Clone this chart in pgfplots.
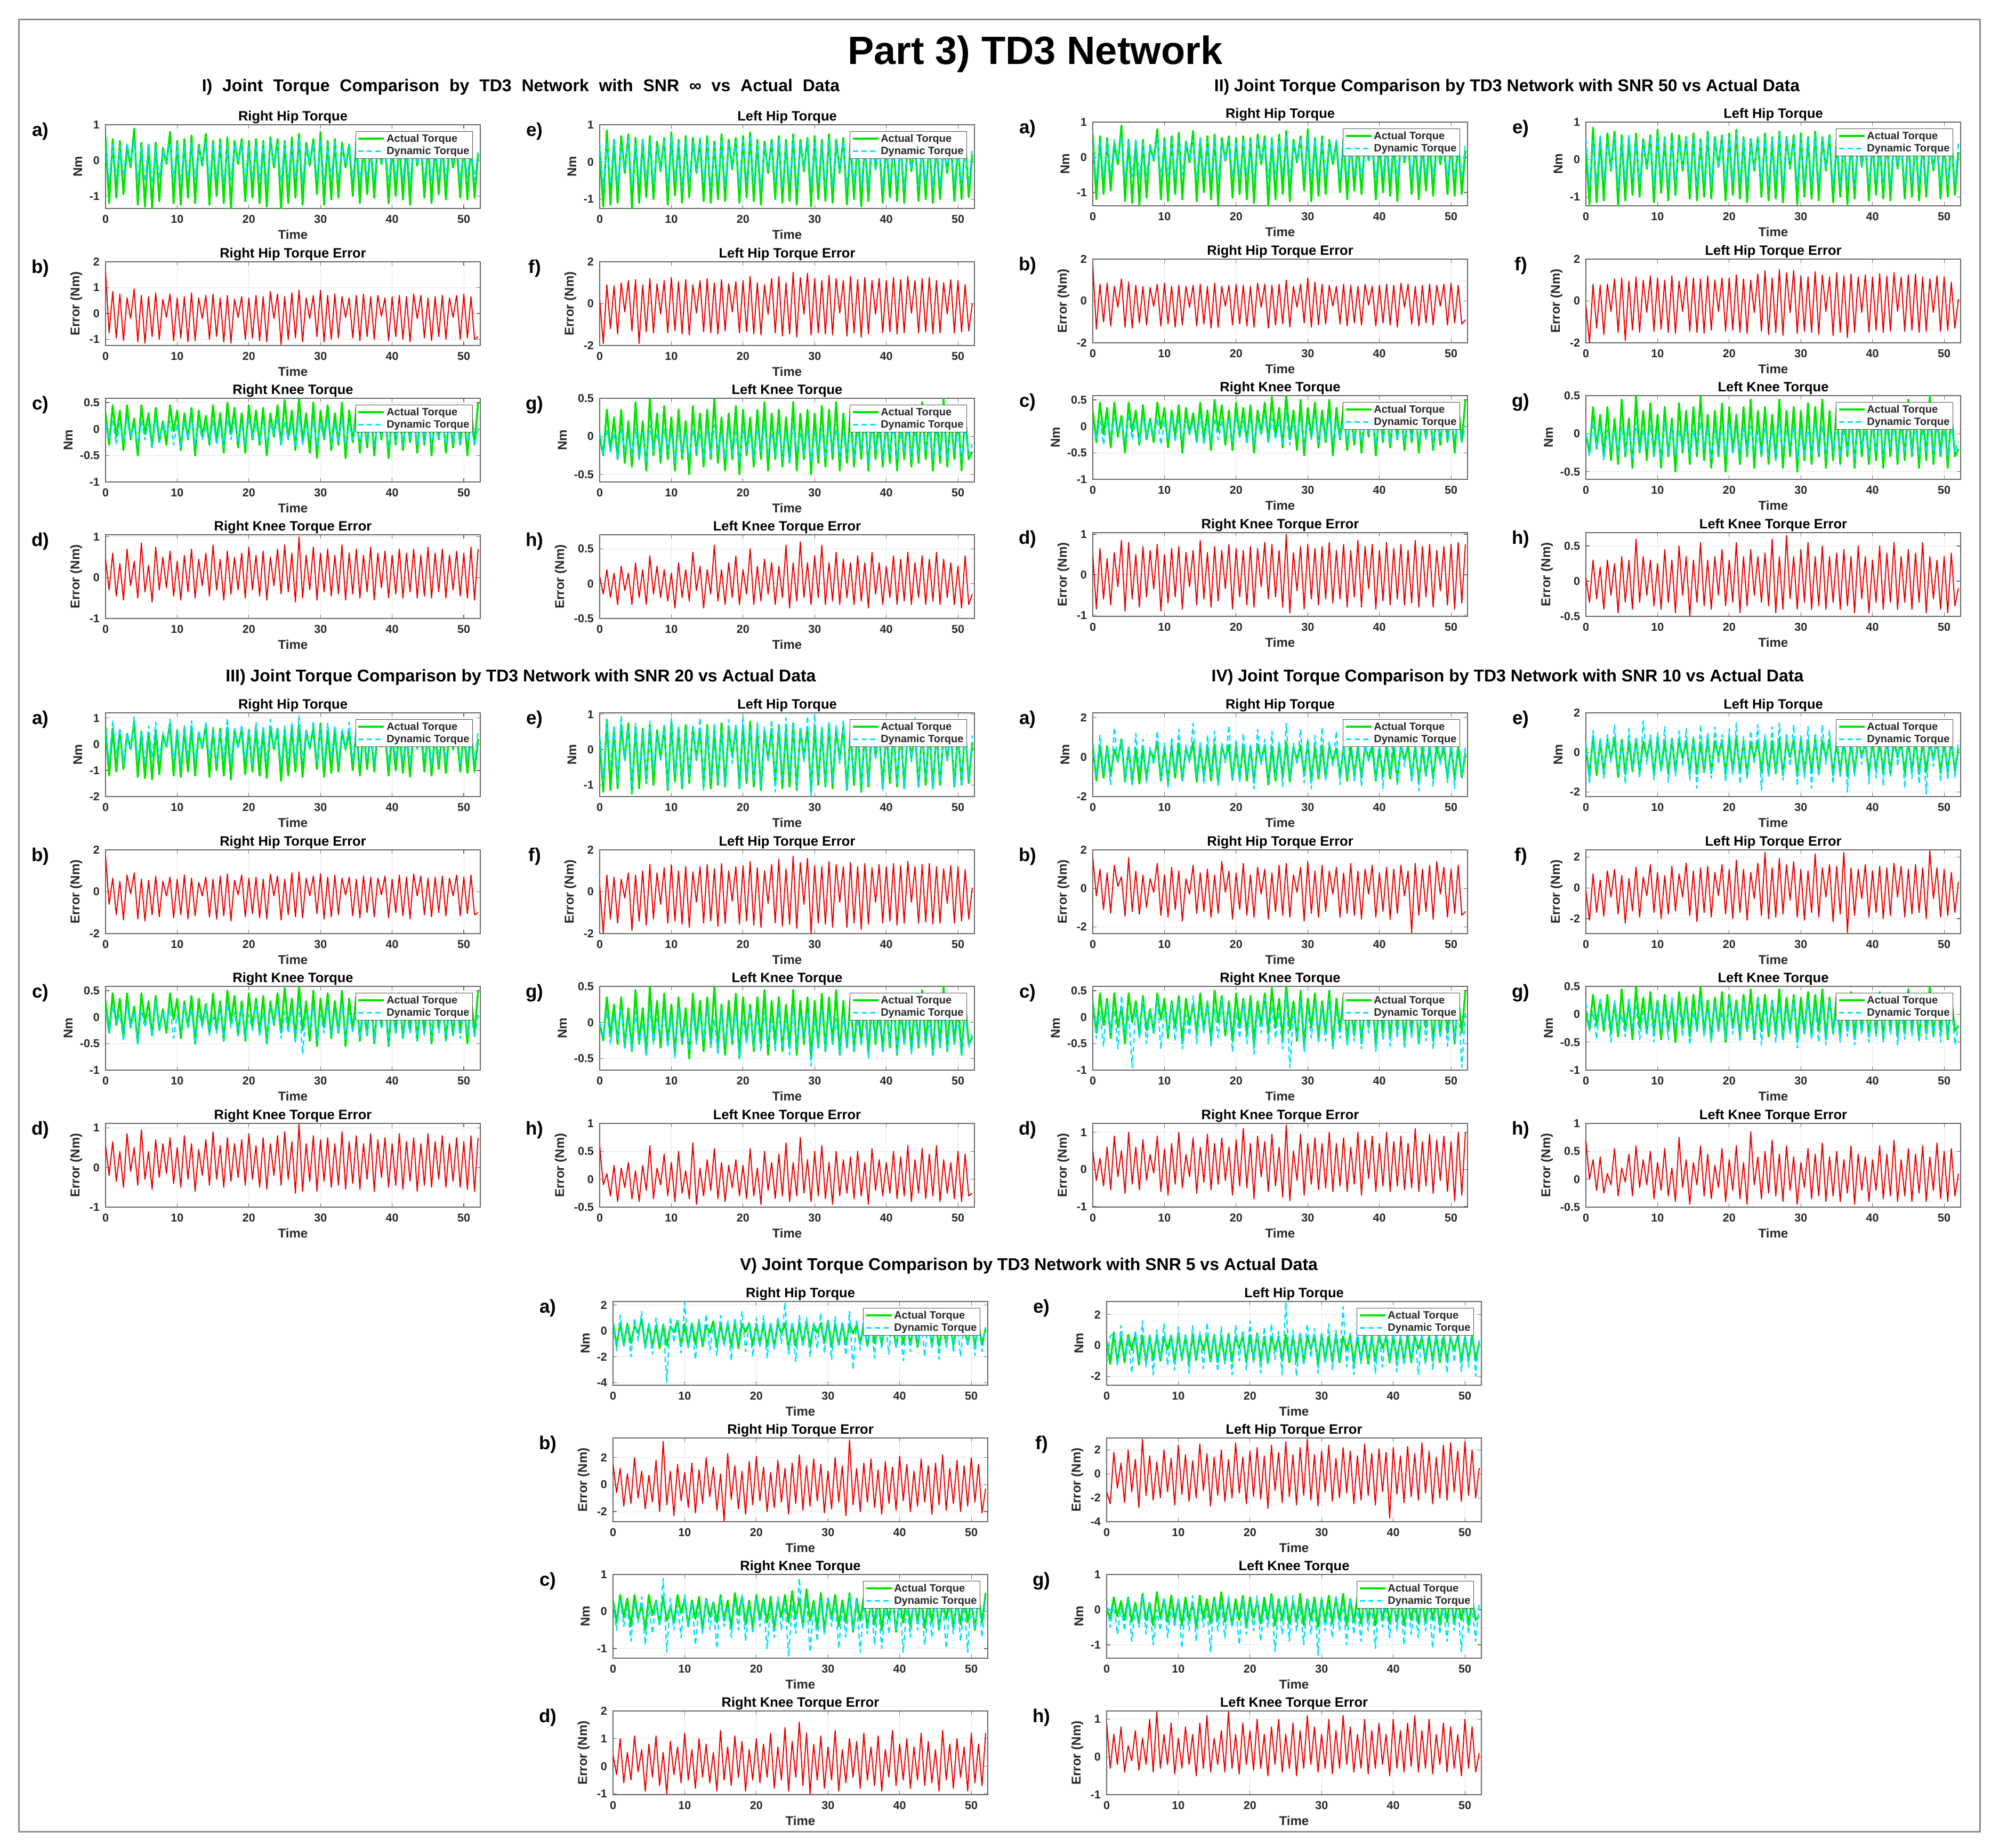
\documentclass[border=0pt]{standalone}
\usepackage{fontspec}
\setmainfont{Liberation Sans}
\usepackage{pgfplots}
\usepackage{pgfplotstable}
\pgfplotsset{compat=1.18}

\definecolor{cG}{RGB}{0,230,0}
\definecolor{cC}{RGB}{0,225,255}
\definecolor{cR}{RGB}{235,0,0}
\definecolor{fr}{RGB}{140,140,140}
\newcommand{\fz}[1]{\fontsize{#1}{#1}\selectfont\bfseries}

\pgfplotstableread{
t rh lh rk lk
0 0.65 0.3 0.3 0.0
0.5 -1.2 -1.2 -0.3 -0.25
1 0.6 0.85 0.45 0.35
1.5 -1.05 -1.15 -0.15 -0.2
2 0.55 0.6 0.35 0.25
2.5 -0.95 -1.1 -0.4 -0.3
3 0.4 0.7 0.45 0.35
3.5 -0.2 -0.3 -0.2 -0.35
4 0.9 0.75 0.2 0.2
4.5 -1.25 -1.25 -0.5 -0.4
5 0.5 0.65 0.45 0.45
5.5 -1.3 -1.1 -0.1 -0.3
6 0.45 0.6 0.3 0.2
6.5 -1.35 -0.95 -0.35 -0.45
7 0.5 0.7 0.4 0.5
7.5 -1.15 -1.0 -0.25 -0.25
8 0.35 0.55 0.15 0.3
8.5 -0.1 -0.25 -0.3 -0.35
9 0.8 0.65 0.45 0.4
9.5 -1.2 -1.15 -0.05 -0.3
10 0.55 0.8 0.35 0.25
10.5 -1.25 -0.9 -0.4 -0.45
11 0.6 0.6 0.3 0.35
11.5 -1.05 -1.1 -0.2 -0.3
12 0.7 0.7 0.4 0.2
12.5 -1.2 -0.95 -0.5 -0.5
13 0.45 0.65 0.35 0.4
13.5 -0.15 -0.3 -0.15 -0.25
14 0.75 0.6 0.25 0.3
14.5 -1.25 -1.05 -0.3 -0.4
15 0.55 0.7 0.45 0.35
15.5 -1.0 -1.1 -0.25 -0.3
16 0.6 0.55 0.3 0.5
16.5 -1.2 -1.0 -0.45 -0.35
17 0.65 0.75 0.5 0.25
17.5 -1.35 -1.05 -0.1 -0.45
18 0.55 0.6 0.4 0.3
18.5 -0.1 -0.2 -0.35 -0.3
19 0.6 0.65 0.3 0.4
19.5 -1.15 -1.1 -0.45 -0.5
20 0.55 0.7 0.45 0.35
20.5 -1.05 -0.95 -0.2 -0.25
21 0.6 0.8 0.35 0.25
21.5 -1.2 -1.05 -0.3 -0.4
22 0.55 0.6 0.4 0.35
22.5 -1.3 -1.15 -0.5 -0.3
23 0.65 0.55 0.3 0.45
23.5 -0.2 -0.3 -0.15 -0.45
24 0.6 0.6 0.45 0.3
24.5 -1.4 -1.0 -0.3 -0.3
25 0.55 0.7 0.55 0.35
25.5 -1.2 -1.1 -0.2 -0.4
26 0.65 0.6 0.35 0.25
26.5 -1.05 -1.05 -0.4 -0.35
27 0.75 0.75 0.6 0.45
27.5 -1.25 -1.15 -0.25 -0.45
28 0.5 0.6 0.3 0.3
28.5 -0.15 -0.25 -0.45 -0.3
29 0.6 0.65 0.5 0.35
29.5 -0.95 -1.2 -0.55 -0.5
30 0.8 0.7 0.35 0.3
30.5 -1.25 -1.0 -0.2 -0.35
31 0.55 0.6 0.45 0.4
31.5 -1.1 -1.05 -0.4 -0.4
32 0.6 0.75 0.3 0.35
32.5 -1.05 -1.1 -0.3 -0.3
33 0.5 0.6 0.5 0.45
33.5 -0.2 -0.3 -0.55 -0.45
34 0.45 0.65 0.35 0.3
34.5 -1.0 -1.15 -0.25 -0.35
35 0.55 0.55 0.4 0.35
35.5 -1.2 -1.0 -0.45 -0.4
36 0.6 0.65 0.3 0.3
36.5 -0.95 -1.2 -0.35 -0.3
37 0.5 0.6 0.45 0.4
37.5 -1.05 -1.05 -0.5 -0.45
38 0.55 0.7 0.3 0.35
38.5 -0.1 -0.2 -0.2 -0.3
39 0.5 0.55 0.4 0.3
39.5 -1.2 -1.1 -0.55 -0.4
40 0.45 0.6 0.35 0.25
40.5 -1.0 -0.95 -0.3 -0.35
41 0.55 0.55 0.45 0.4
41.5 -1.1 -1.05 -0.4 -0.45
42 0.5 0.7 0.3 0.3
42.5 -1.25 -1.1 -0.25 -0.3
43 0.6 0.6 0.4 0.35
43.5 -0.15 -0.25 -0.45 -0.4
44 0.55 0.55 0.35 0.3
44.5 -1.05 -1.05 -0.3 -0.35
45 0.5 0.6 0.45 0.45
45.5 -1.2 -1.0 -0.5 -0.3
46 0.45 0.7 0.3 0.3
46.5 -0.95 -1.1 -0.2 -0.45
47 0.55 0.55 0.4 0.35
47.5 -1.1 -1.0 -0.45 -0.35
48 0.5 0.5 0.3 0.5
48.5 -0.2 -0.3 -0.35 -0.4
49 0.45 0.6 0.45 0.3
49.5 -1.05 -1.05 -0.3 -0.3
50 0.55 0.55 0.35 0.35
50.5 -1.1 -1.0 -0.5 -0.45
51 0.5 0.65 0.4 0.3
51.5 -1.05 -0.95 -0.3 -0.3
52 0.2 0.2 0.5 -0.2
}\act

\pgfplotstableread{
t rh lh rk lk rhe lhe rke lke
0 0.35 0.5 0.1 0.05 1.6 0.2 0.45 0.1
0.5 -0.6 -0.7 -0.2 -0.25 -0.75 -1.9 -0.3 -0.15
1 0.45 0.55 0.15 0.1 0.85 0.9 0.6 0.2
1.5 -0.5 -0.6 -0.3 -0.2 -0.95 -1.2 -0.45 -0.2
2 0.4 0.6 0.1 0.05 0.75 0.85 0.35 0.15
2.5 -0.45 -0.65 -0.25 -0.3 -1.05 -1.45 -0.55 -0.3
3 0.5 0.45 0.2 0.1 0.6 1.0 0.7 0.25
3.5 -0.1 -0.2 -0.15 -0.2 -0.2 -0.4 -0.2 -0.1
4 0.55 0.65 0.05 0.0 0.95 1.1 0.4 0.15
4.5 -0.55 -0.7 -0.3 -0.25 -1.1 -1.3 -0.5 -0.3
5 0.4 0.5 0.15 0.1 0.7 1.15 0.85 0.3
5.5 -0.6 -0.55 -0.2 -0.3 -1.15 -1.9 -0.35 -0.2
6 0.45 0.6 0.1 0.05 0.65 0.9 0.3 0.2
6.5 -0.65 -0.5 -0.35 -0.35 -0.9 -1.35 -0.6 -0.3
7 0.35 0.55 0.2 0.15 0.8 1.2 0.75 0.4
7.5 -0.5 -0.6 -0.25 -0.2 -1.0 -1.4 -0.3 -0.15
8 0.3 0.4 0.1 0.05 0.55 0.95 0.5 0.25
8.5 -0.05 -0.2 -0.1 -0.25 -0.15 -0.5 -0.25 -0.2
9 0.5 0.6 0.15 0.1 0.75 1.1 0.65 0.2
9.5 -0.55 -0.65 -0.3 -0.2 -1.05 -1.4 -0.45 -0.25
10 0.45 0.7 0.1 0.05 0.6 1.25 0.4 0.15
10.5 -0.6 -0.5 -0.35 -0.35 -0.95 -1.3 -0.55 -0.35
11 0.4 0.55 0.15 0.1 0.65 1.05 0.55 0.3
11.5 -0.5 -0.7 -0.2 -0.25 -1.1 -1.45 -0.35 -0.2
12 0.5 0.6 0.2 0.05 0.8 1.15 0.7 0.2
12.5 -0.55 -0.6 -0.3 -0.3 -1.05 -1.5 -0.5 -0.25
13 0.35 0.5 0.1 0.1 0.6 0.9 0.45 0.45
13.5 -0.1 -0.25 -0.2 -0.2 -0.2 -0.45 -0.2 -0.1
14 0.55 0.65 0.05 0.05 0.7 1.1 0.6 0.25
14.5 -0.6 -0.6 -0.25 -0.3 -1.0 -1.35 -0.45 -0.35
15 0.45 0.55 0.15 0.1 0.75 1.2 0.8 0.2
15.5 -0.5 -0.7 -0.3 -0.25 -0.9 -1.4 -0.3 -0.15
16 0.5 0.45 0.1 0.15 0.6 1.0 0.45 0.55
16.5 -0.65 -0.55 -0.35 -0.2 -1.1 -1.45 -0.55 -0.25
17 0.4 0.6 0.2 0.05 0.7 1.15 0.65 0.2
17.5 -0.55 -0.65 -0.2 -0.3 -1.15 -1.3 -0.4 -0.3
18 0.45 0.5 0.15 0.1 0.55 0.95 0.5 0.3
18.5 -0.05 -0.15 -0.25 -0.25 -0.15 -0.4 -0.3 -0.2
19 0.5 0.55 0.1 0.05 0.65 1.05 0.6 0.4
19.5 -0.6 -0.7 -0.3 -0.35 -1.0 -1.4 -0.5 -0.3
20 0.4 0.6 0.2 0.1 0.6 1.1 0.75 0.2
20.5 -0.5 -0.55 -0.15 -0.2 -0.95 -1.35 -0.3 -0.15
21 0.45 0.7 0.1 0.05 0.7 1.3 0.55 0.5
21.5 -0.55 -0.6 -0.25 -0.3 -1.05 -1.45 -0.45 -0.3
22 0.5 0.5 0.15 0.1 0.65 1.0 0.65 0.25
22.5 -0.65 -0.7 -0.3 -0.2 -1.1 -1.5 -0.55 -0.25
23 0.55 0.45 0.1 0.15 0.85 0.9 0.5 0.35
23.5 -0.1 -0.2 -0.1 -0.25 -0.2 -0.5 -0.2 -0.15
24 0.45 0.55 0.2 0.05 0.75 1.2 0.7 0.3
24.5 -0.6 -0.6 -0.3 -0.25 -1.2 -1.4 -0.4 -0.3
25 0.5 0.6 0.15 0.1 0.65 1.3 0.8 0.25
25.5 -0.55 -0.7 -0.2 -0.3 -1.0 -1.55 -0.35 -0.2
26 0.45 0.5 0.1 0.05 0.8 1.0 0.6 0.55
26.5 -0.5 -0.6 -0.35 -0.35 -0.95 -1.45 -0.6 -0.35
27 0.6 0.65 0.25 0.15 0.9 1.5 1.0 0.3
27.5 -0.6 -0.7 -0.3 -0.2 -1.1 -1.6 -0.5 -0.25
28 0.4 0.5 0.1 0.05 0.6 1.25 0.55 0.6
28.5 -0.05 -0.2 -0.2 -0.25 -0.2 -0.5 -0.3 -0.2
29 0.5 0.6 0.15 0.1 0.7 1.45 0.75 0.3
29.5 -0.55 -0.65 -0.35 -0.35 -0.9 -1.5 -0.55 -0.3
30 0.55 0.55 0.1 0.05 0.9 1.2 0.6 0.4
30.5 -0.6 -0.6 -0.2 -0.25 -1.1 -1.4 -0.35 -0.2
31 0.45 0.5 0.2 0.1 0.7 1.1 0.7 0.55
31.5 -0.5 -0.7 -0.3 -0.3 -1.0 -1.45 -0.45 -0.3
32 0.5 0.6 0.1 0.15 0.75 1.35 0.55 0.3
32.5 -0.55 -0.65 -0.25 -0.2 -0.95 -1.5 -0.4 -0.25
33 0.4 0.5 0.2 0.1 0.65 1.2 0.8 0.45
33.5 -0.1 -0.25 -0.3 -0.3 -0.15 -0.45 -0.55 -0.3
34 0.45 0.55 0.1 0.05 0.6 1.1 0.6 0.35
34.5 -0.55 -0.7 -0.2 -0.25 -0.95 -1.55 -0.4 -0.2
35 0.5 0.5 0.15 0.1 0.7 1.3 0.7 0.3
35.5 -0.6 -0.6 -0.3 -0.3 -1.05 -1.4 -0.5 -0.3
36 0.45 0.55 0.1 0.05 0.75 1.15 0.55 0.4
36.5 -0.5 -0.7 -0.25 -0.2 -0.9 -1.6 -0.35 -0.25
37 0.4 0.5 0.2 0.15 0.65 1.25 0.75 0.3
37.5 -0.55 -0.65 -0.3 -0.35 -1.0 -1.45 -0.55 -0.35
38 0.5 0.6 0.1 0.1 0.7 1.1 0.6 0.45
38.5 -0.05 -0.2 -0.15 -0.2 -0.1 -0.5 -0.25 -0.15
39 0.45 0.5 0.15 0.05 0.6 1.2 0.65 0.3
39.5 -0.6 -0.7 -0.35 -0.3 -1.05 -1.4 -0.5 -0.3
40 0.4 0.55 0.1 0.1 0.65 1.1 0.55 0.25
40.5 -0.5 -0.55 -0.25 -0.25 -0.9 -1.35 -0.4 -0.2
41 0.45 0.5 0.2 0.15 0.7 1.25 0.7 0.4
41.5 -0.55 -0.65 -0.3 -0.3 -1.0 -1.45 -0.5 -0.3
42 0.5 0.6 0.1 0.05 0.65 1.15 0.6 0.35
42.5 -0.6 -0.7 -0.2 -0.2 -1.1 -1.4 -0.35 -0.25
43 0.45 0.5 0.15 0.1 0.75 1.3 0.7 0.45
43.5 -0.1 -0.2 -0.3 -0.3 -0.2 -0.45 -0.5 -0.3
44 0.5 0.55 0.1 0.05 0.7 1.1 0.55 0.3
44.5 -0.55 -0.65 -0.25 -0.25 -0.95 -1.4 -0.45 -0.2
45 0.4 0.5 0.2 0.15 0.6 1.2 0.75 0.4
45.5 -0.6 -0.6 -0.3 -0.2 -1.05 -1.35 -0.5 -0.3
46 0.45 0.6 0.1 0.1 0.65 1.25 0.6 0.35
46.5 -0.5 -0.7 -0.2 -0.3 -0.9 -1.45 -0.35 -0.25
47 0.5 0.5 0.15 0.05 0.7 1.1 0.7 0.45
47.5 -0.55 -0.65 -0.3 -0.25 -1.0 -1.4 -0.5 -0.3
48 0.45 0.45 0.1 0.15 0.6 1.0 0.55 0.35
48.5 -0.05 -0.2 -0.25 -0.3 -0.15 -0.5 -0.3 -0.2
49 0.5 0.55 0.2 0.1 0.7 1.15 0.65 0.3
49.5 -0.6 -0.6 -0.3 -0.2 -1.0 -1.4 -0.45 -0.3
50 0.4 0.5 0.15 0.05 0.75 1.1 0.6 0.25
50.5 -0.5 -0.65 -0.25 -0.3 -0.95 -1.35 -0.5 -0.35
51 0.45 0.55 0.1 0.1 0.65 0.9 0.75 0.4
51.5 -0.55 -0.6 -0.3 -0.25 -1.0 -1.3 -0.55 -0.3
52 0.3 0.4 0.0 -0.1 -0.9 0.0 0.7 -0.15
}\secI

\pgfplotstableread{
t rh lh rk lk rhe lhe rke lke
0 0.3 0.55 0.05 0.0 1.7 -0.2 0.5 0.05
0.5 -0.65 -0.75 -0.25 -0.3 -1.35 -2.0 -0.85 -0.3
1 0.5 0.5 0.1 0.15 0.8 0.8 0.65 0.3
1.5 -0.55 -0.65 -0.35 -0.2 -1.0 -1.3 -0.6 -0.25
2 0.45 0.65 0.15 0.1 0.85 0.75 0.4 0.2
2.5 -0.5 -0.6 -0.2 -0.35 -1.2 -1.6 -0.75 -0.4
3 0.5 0.5 0.15 0.05 0.7 0.8 0.55 0.3
3.5 -0.1 -0.25 -0.1 -0.2 -0.3 -0.5 -0.3 -0.2
4 0.6 0.6 0.1 0.05 1.05 1.05 0.85 0.25
4.5 -0.6 -0.75 -0.3 -0.3 -1.25 -1.5 -0.9 -0.45
5 0.45 0.55 0.2 0.1 0.9 1.1 0.8 0.35
5.5 -0.55 -0.6 -0.25 -0.25 -1.3 -1.9 -0.6 -0.3
6 0.5 0.65 0.1 0.1 0.75 0.95 0.5 0.3
6.5 -0.6 -0.55 -0.3 -0.35 -1.05 -1.4 -0.8 -0.4
7 0.4 0.5 0.15 0.15 0.7 1.15 0.7 0.6
7.5 -0.55 -0.65 -0.2 -0.25 -1.15 -1.5 -0.55 -0.3
8 0.35 0.45 0.1 0.05 0.65 1.0 0.6 0.35
8.5 -0.1 -0.2 -0.2 -0.2 -0.25 -0.55 -0.35 -0.2
9 0.55 0.6 0.15 0.1 0.8 1.2 0.75 0.3
9.5 -0.6 -0.7 -0.35 -0.3 -1.2 -1.45 -0.9 -0.35
10 0.5 0.65 0.1 0.05 0.85 1.1 0.5 0.25
10.5 -0.55 -0.55 -0.25 -0.35 -1.1 -1.35 -0.7 -0.4
11 0.45 0.6 0.2 0.15 0.7 1.0 0.65 0.45
11.5 -0.6 -0.7 -0.3 -0.25 -1.25 -1.5 -0.55 -0.3
12 0.5 0.55 0.15 0.1 0.75 1.2 0.7 0.3
12.5 -0.5 -0.65 -0.25 -0.3 -1.15 -1.55 -0.85 -0.45
13 0.4 0.5 0.1 0.05 0.7 0.95 0.55 0.5
13.5 -0.05 -0.2 -0.15 -0.2 -0.3 -0.5 -0.3 -0.2
14 0.5 0.6 0.1 0.1 0.75 1.15 0.6 0.35
14.5 -0.6 -0.65 -0.3 -0.3 -1.2 -1.45 -0.75 -0.5
15 0.55 0.6 0.2 0.05 0.8 1.1 0.85 0.3
15.5 -0.55 -0.7 -0.35 -0.25 -1.1 -1.5 -0.6 -0.3
16 0.45 0.5 0.1 0.15 0.7 1.05 0.55 0.55
16.5 -0.6 -0.6 -0.3 -0.2 -1.3 -1.55 -0.8 -0.35
17 0.5 0.65 0.15 0.1 0.85 1.2 0.7 0.3
17.5 -0.65 -0.7 -0.25 -0.35 -1.25 -1.4 -0.65 -0.4
18 0.45 0.55 0.1 0.05 0.7 1.0 0.6 0.35
18.5 -0.1 -0.2 -0.2 -0.25 -0.25 -0.5 -0.35 -0.2
19 0.5 0.6 0.15 0.1 0.75 1.1 0.75 0.45
19.5 -0.55 -0.65 -0.3 -0.3 -1.15 -1.45 -0.85 -0.35
20 0.45 0.6 0.2 0.15 0.8 1.1 0.65 0.3
20.5 -0.6 -0.6 -0.2 -0.25 -1.1 -1.4 -0.55 -0.3
21 0.5 0.7 0.1 0.05 0.75 1.25 0.6 0.55
21.5 -0.55 -0.65 -0.3 -0.3 -1.2 -1.5 -0.75 -0.45
22 0.45 0.55 0.15 0.1 0.7 1.05 0.7 0.35
22.5 -0.65 -0.7 -0.35 -0.25 -1.25 -1.55 -0.8 -0.35
23 0.55 0.5 0.1 0.1 0.85 1.0 0.65 0.45
23.5 -0.1 -0.25 -0.15 -0.25 -0.3 -0.55 -0.3 -0.2
24 0.5 0.6 0.2 0.05 0.8 1.3 0.8 0.35
24.5 -0.6 -0.65 -0.3 -0.3 -1.3 -1.45 -0.6 -0.3
25 0.55 0.6 0.15 0.1 0.75 1.45 0.75 0.4
25.5 -0.55 -0.7 -0.25 -0.3 -1.15 -1.6 -0.55 -0.35
26 0.45 0.55 0.1 0.05 0.8 1.1 0.6 0.6
26.5 -0.5 -0.6 -0.35 -0.35 -1.1 -1.5 -0.8 -0.45
27 0.6 0.7 0.25 0.15 1.0 1.5 1.0 0.35
27.5 -0.6 -0.7 -0.35 -0.25 -1.25 -1.65 -0.95 -0.4
28 0.45 0.55 0.1 0.05 0.7 1.35 0.55 0.65
28.5 -0.1 -0.2 -0.2 -0.2 -0.3 -0.55 -0.4 -0.25
29 0.55 0.6 0.15 0.1 0.8 1.45 0.7 0.35
29.5 -0.55 -0.7 -0.35 -0.35 -1.05 -1.55 -0.85 -0.4
30 0.6 0.6 0.1 0.05 1.1 1.2 0.75 0.45
30.5 -0.6 -0.65 -0.25 -0.3 -1.25 -1.45 -0.6 -0.3
31 0.5 0.55 0.2 0.1 0.9 1.15 0.65 0.55
31.5 -0.55 -0.7 -0.3 -0.3 -1.15 -1.5 -0.75 -0.4
32 0.5 0.65 0.1 0.15 0.8 1.4 0.7 0.35
32.5 -0.6 -0.65 -0.25 -0.25 -1.1 -1.6 -0.6 -0.35
33 0.45 0.55 0.2 0.1 0.75 1.25 0.8 0.5
33.5 -0.1 -0.25 -0.3 -0.3 -0.25 -0.5 -0.7 -0.4
34 0.5 0.6 0.1 0.05 0.7 1.15 0.6 0.35
34.5 -0.6 -0.7 -0.25 -0.25 -1.1 -1.65 -0.6 -0.3
35 0.5 0.55 0.15 0.1 0.8 1.35 0.75 0.4
35.5 -0.6 -0.65 -0.3 -0.3 -1.2 -1.5 -0.8 -0.4
36 0.5 0.6 0.1 0.05 0.75 1.2 0.6 0.45
36.5 -0.55 -0.7 -0.25 -0.25 -1.05 -1.75 -0.55 -0.35
37 0.45 0.55 0.2 0.15 0.7 1.3 0.85 0.35
37.5 -0.6 -0.7 -0.3 -0.35 -1.15 -1.5 -0.8 -0.45
38 0.55 0.65 0.1 0.1 0.8 1.15 0.7 0.5
38.5 -0.1 -0.2 -0.15 -0.2 -0.2 -0.55 -0.35 -0.25
39 0.5 0.55 0.15 0.05 0.7 1.25 0.75 0.35
39.5 -0.6 -0.7 -0.35 -0.3 -1.2 -1.5 -0.85 -0.45
40 0.45 0.6 0.1 0.1 0.75 1.15 0.6 0.3
40.5 -0.55 -0.6 -0.25 -0.25 -1.05 -1.4 -0.65 -0.3
41 0.5 0.55 0.2 0.15 0.8 1.3 0.8 0.5
41.5 -0.6 -0.7 -0.3 -0.3 -1.15 -1.5 -0.75 -0.4
42 0.5 0.65 0.1 0.05 0.75 1.2 0.65 0.4
42.5 -0.65 -0.7 -0.25 -0.2 -1.25 -1.45 -0.6 -0.3
43 0.5 0.55 0.15 0.1 0.85 1.35 0.75 0.55
43.5 -0.1 -0.25 -0.3 -0.3 -0.3 -0.5 -0.75 -0.4
44 0.55 0.6 0.1 0.05 0.8 1.15 0.6 0.35
44.5 -0.6 -0.7 -0.25 -0.25 -1.1 -1.45 -0.7 -0.3
45 0.45 0.55 0.2 0.15 0.7 1.25 0.85 0.45
45.5 -0.65 -0.65 -0.3 -0.25 -1.2 -1.4 -0.8 -0.4
46 0.5 0.65 0.1 0.1 0.75 1.3 0.7 0.4
46.5 -0.55 -0.7 -0.25 -0.3 -1.05 -1.5 -0.55 -0.3
47 0.55 0.55 0.15 0.05 0.8 1.15 0.75 0.55
47.5 -0.6 -0.7 -0.35 -0.25 -1.15 -1.45 -0.8 -0.45
48 0.5 0.5 0.1 0.15 0.75 1.05 0.6 0.35
48.5 -0.1 -0.25 -0.25 -0.3 -0.25 -0.55 -0.4 -0.25
49 0.55 0.6 0.2 0.1 0.8 1.2 0.7 0.3
49.5 -0.65 -0.65 -0.3 -0.25 -1.15 -1.45 -0.75 -0.4
50 0.45 0.55 0.15 0.05 0.85 1.15 0.75 0.35
50.5 -0.55 -0.7 -0.25 -0.3 -1.05 -1.4 -0.85 -0.45
51 0.5 0.6 0.1 0.1 0.75 0.9 0.8 0.4
51.5 -0.6 -0.65 -0.3 -0.25 -1.1 -1.3 -0.7 -0.35
52 0.4 0.45 0.0 -0.1 -0.9 0.1 0.75 -0.1
}\secII

\pgfplotstableread{
t rh lh rk lk rhe lhe rke lke
0 0.5 0.4 0.1 0.0 1.7 0.3 0.55 0.6
0.5 -0.7 -0.9 -0.3 -0.2 -0.6 -2.0 -0.2 -0.1
1 0.9 0.8 0.2 0.15 0.65 0.8 0.65 0.1
1.5 -0.4 -0.5 -0.1 -0.3 -1.1 -1.3 -0.35 -0.3
2 0.6 0.7 0.05 0.1 0.5 0.7 0.4 0.25
2.5 -0.8 -1.0 -0.45 -0.25 -1.35 -1.5 -0.5 -0.4
3 0.4 0.95 0.25 0.2 0.8 0.6 0.85 0.2
3.5 -0.2 -0.3 -0.2 -0.35 -0.1 -0.3 -0.1 -0.15
4 1.05 0.6 0.1 0.05 0.9 0.9 0.5 0.3
4.5 -0.6 -1.2 -0.5 -0.4 -1.3 -1.85 -0.45 -0.35
5 0.5 0.75 0.15 0.15 0.6 0.8 0.95 0.15
5.5 -0.75 -0.7 -0.2 -0.3 -1.4 -1.4 -0.3 -0.4
6 0.7 0.5 0.05 0.0 0.55 1.0 0.4 0.25
6.5 -0.5 -0.9 -0.35 -0.45 -1.1 -1.6 -0.55 -0.2
7 0.85 0.8 0.3 0.2 0.75 1.3 0.7 0.6
7.5 -0.65 -0.6 -0.25 -0.3 -1.2 -1.3 -0.25 -0.35
8 0.45 0.45 0.1 0.05 0.5 0.9 0.6 0.2
8.5 -0.1 -0.35 -0.15 -0.2 -0.2 -0.6 -0.15 -0.1
9 0.95 0.7 0.2 0.15 0.7 1.15 0.75 0.45
9.5 -0.7 -1.1 -0.4 -0.35 -1.25 -1.5 -0.4 -0.3
10 0.55 0.9 0.05 0.1 0.6 1.3 0.5 0.3
10.5 -0.85 -0.7 -0.3 -0.5 -1.1 -1.4 -0.5 -0.4
11 0.7 0.65 0.25 0.2 0.8 1.0 0.8 0.5
11.5 -0.5 -1.0 -0.2 -0.3 -1.3 -1.55 -0.3 -0.25
12 0.9 0.55 0.15 0.0 0.65 1.2 0.6 0.15
12.5 -0.7 -0.85 -0.5 -0.4 -1.15 -1.7 -0.6 -0.35
13 0.5 0.7 0.1 0.15 0.45 0.95 0.45 0.65
13.5 -0.15 -0.3 -0.2 -0.3 -0.2 -0.5 -0.2 -0.45
14 0.85 0.9 0.2 0.1 0.7 1.2 0.7 0.2
14.5 -0.6 -1.15 -0.35 -0.25 -1.2 -1.5 -0.45 -0.3
15 0.65 0.6 0.05 0.2 0.6 1.3 0.9 0.35
15.5 -0.8 -0.8 -0.3 -0.35 -1.3 -1.4 -0.3 -0.2
16 0.5 0.75 0.2 0.05 0.75 1.1 0.55 0.55
16.5 -0.55 -0.95 -0.45 -0.45 -1.15 -1.65 -0.5 -0.35
17 1.0 0.55 0.25 0.2 0.85 1.35 0.75 0.3
17.5 -0.75 -1.0 -0.2 -0.3 -1.4 -1.5 -0.35 -0.4
18 0.6 0.85 0.1 0.1 0.55 1.0 0.6 0.25
18.5 -0.2 -0.4 -0.35 -0.25 -0.15 -0.45 -0.25 -0.15
19 0.75 0.7 0.2 0.15 0.8 1.2 0.7 0.35
19.5 -0.65 -1.1 -0.4 -0.5 -1.2 -1.55 -0.45 -0.3
20 0.55 0.95 0.05 0.05 0.65 1.25 0.85 0.25
20.5 -0.8 -0.75 -0.25 -0.3 -1.05 -1.4 -0.3 -0.35
21 0.85 0.6 0.25 0.2 0.7 1.45 0.55 0.55
21.5 -0.5 -0.9 -0.35 -0.35 -1.25 -1.6 -0.5 -0.3
22 0.7 0.8 0.1 0.1 0.6 1.15 0.75 0.2
22.5 -0.7 -1.05 -0.45 -0.4 -1.3 -1.7 -0.55 -0.45
23 0.95 0.65 0.2 0.15 0.85 1.0 0.6 0.5
23.5 -0.15 -0.35 -0.15 -0.3 -0.2 -0.55 -0.2 -0.2
24 0.6 0.85 0.25 0.05 0.75 1.3 0.8 0.3
24.5 -0.85 -1.2 -0.4 -0.4 -1.35 -1.5 -0.45 -0.35
25 0.7 0.7 0.1 0.2 0.6 1.55 0.9 0.45
25.5 -0.6 -0.9 -0.3 -0.35 -1.1 -1.65 -0.3 -0.3
26 0.85 0.9 0.15 0.05 0.9 1.1 0.65 0.65
26.5 -0.7 -0.8 -0.5 -0.45 -1.2 -1.55 -0.65 -0.4
27 1.1 0.75 0.3 0.2 0.95 1.7 1.1 0.3
27.5 -0.65 -1.1 -0.7 -0.35 -1.25 -1.75 -0.6 -0.3
28 0.55 0.6 0.1 0.1 0.65 1.4 0.6 0.75
28.5 -0.2 -0.35 -0.25 -0.25 -0.2 -0.6 -0.35 -0.25
29 0.9 0.95 0.2 0.15 0.75 1.6 0.8 0.35
29.5 -0.75 -1.3 -0.45 -0.6 -1.05 -2.0 -0.6 -0.4
30 0.65 1.0 0.05 0.05 0.85 1.25 0.7 0.5
30.5 -0.8 -0.85 -0.3 -0.35 -1.3 -1.5 -0.35 -0.3
31 0.8 0.65 0.25 0.2 0.7 1.2 0.75 0.6
31.5 -0.55 -1.0 -0.35 -0.4 -1.2 -1.55 -0.5 -0.35
32 0.7 0.8 0.1 0.15 0.8 1.45 0.6 0.3
32.5 -0.7 -0.95 -0.3 -0.3 -1.1 -1.7 -0.45 -0.45
33 0.6 0.7 0.25 0.05 0.65 1.3 0.9 0.5
33.5 -0.15 -0.4 -0.45 -0.45 -0.15 -0.5 -0.55 -0.3
34 0.85 0.85 0.1 0.1 0.7 1.2 0.65 0.35
34.5 -0.65 -1.15 -0.3 -0.35 -1.15 -1.7 -0.4 -0.25
35 0.55 0.6 0.2 0.2 0.6 1.4 0.8 0.4
35.5 -0.8 -0.8 -0.4 -0.4 -1.25 -1.5 -0.55 -0.35
36 0.75 0.75 0.05 0.05 0.75 1.2 0.6 0.5
36.5 -0.6 -1.1 -0.35 -0.3 -1.0 -1.8 -0.3 -0.3
37 0.5 0.65 0.25 0.15 0.7 1.35 0.85 0.3
37.5 -0.75 -0.95 -0.45 -0.5 -1.2 -1.55 -0.6 -0.45
38 0.8 0.9 0.1 0.1 0.65 1.15 0.7 0.55
38.5 -0.15 -0.3 -0.2 -0.25 -0.15 -0.5 -0.25 -0.2
39 0.6 0.7 0.2 0.05 0.75 1.3 0.75 0.35
39.5 -0.8 -1.15 -0.5 -0.4 -1.25 -1.5 -0.5 -0.3
40 0.7 0.8 0.1 0.15 0.6 1.2 0.6 0.3
40.5 -0.55 -0.75 -0.3 -0.3 -1.0 -1.4 -0.45 -0.25
41 0.85 0.65 0.25 0.2 0.8 1.35 0.85 0.5
41.5 -0.7 -1.0 -0.4 -0.45 -1.15 -1.6 -0.55 -0.35
42 0.6 0.85 0.05 0.05 0.7 1.25 0.65 0.4
42.5 -0.8 -1.1 -0.3 -0.3 -1.3 -1.5 -0.35 -0.3
43 0.75 0.7 0.2 0.15 0.85 1.45 0.75 0.6
43.5 -0.2 -0.35 -0.45 -0.45 -0.2 -0.5 -0.6 -0.4
44 0.85 0.9 0.1 0.1 0.75 1.2 0.6 0.35
44.5 -0.6 -1.05 -0.35 -0.3 -1.1 -1.5 -0.45 -0.25
45 0.55 0.65 0.25 0.2 0.65 1.3 0.85 0.55
45.5 -0.85 -0.85 -0.4 -0.35 -1.2 -1.45 -0.5 -0.35
46 0.7 0.8 0.1 0.05 0.7 1.35 0.65 0.45
46.5 -0.6 -1.1 -0.3 -0.45 -1.0 -1.55 -0.3 -0.3
47 0.8 0.7 0.2 0.15 0.75 1.2 0.8 0.6
47.5 -0.7 -0.9 -0.45 -0.35 -1.15 -1.5 -0.5 -0.4
48 0.6 0.6 0.1 0.2 0.65 1.1 0.6 0.35
48.5 -0.15 -0.35 -0.35 -0.4 -0.2 -0.55 -0.35 -0.25
49 0.85 0.85 0.25 0.1 0.8 1.25 0.75 0.3
49.5 -0.8 -1.0 -0.4 -0.3 -1.15 -1.5 -0.5 -0.35
50 0.55 0.7 0.15 0.05 0.7 1.2 0.65 0.5
50.5 -0.6 -1.05 -0.35 -0.45 -1.05 -1.4 -0.55 -0.4
51 0.75 0.65 0.1 0.15 0.8 1.05 0.8 0.45
51.5 -0.7 -0.85 -0.4 -0.35 -1.1 -1.3 -0.6 -0.3
52 0.5 0.4 0.05 -0.15 -1.0 0.2 0.75 -0.25
}\secIII

\pgfplotstableread{
t rh lh rk lk rhe lhe rke lke
0 0.6 0.5 0.3 0.2 1.6 -0.2 0.5 0.7
0.5 -1.0 -1.6 -0.4 -0.3 -0.4 -2.1 -0.3 0.0
1 1.1 1.1 0.1 0.05 1.0 0.9 0.3 0.35
1.5 -0.8 -0.9 -0.55 -0.45 -1.1 -1.6 -0.45 -0.2
2 0.4 0.7 0.25 0.3 0.8 0.5 0.6 0.4
2.5 -1.4 -1.3 -0.3 -0.2 -1.3 -1.85 -0.55 -0.25
3 1.5 0.9 0.15 0.1 1.2 1.1 0.9 0.1
3.5 -0.3 -0.5 -0.6 -0.5 0.1 -0.6 -0.2 -0.1
4 0.8 1.4 0.4 0.25 0.6 1.2 0.5 0.55
4.5 -1.2 -1.1 -0.35 -0.3 -1.45 -1.7 -0.65 -0.3
5 0.5 0.6 0.05 0.0 1.6 0.8 1.0 0.2
5.5 -1.5 -1.6 -0.95 -0.4 -1.2 -2.3 -0.4 -0.05
6 1.2 1.2 0.2 0.3 0.9 0.6 0.6 0.45
6.5 -0.7 -0.8 -0.4 -0.25 -1.35 -1.5 -0.55 -0.3
7 0.9 0.8 0.3 0.15 0.7 1.35 0.8 0.6
7.5 -1.3 -1.3 -0.5 -0.45 -1.0 -1.9 -0.3 -0.15
8 0.5 1.6 0.1 0.05 0.5 0.7 0.4 0.35
8.5 -0.4 -0.6 -0.3 -0.35 -0.2 -0.5 -0.1 -0.1
9 1.3 0.9 0.35 0.2 1.3 1.5 0.9 0.5
9.5 -1.1 -1.4 -0.6 -0.5 -1.4 -1.6 -0.6 -0.35
10 0.7 1.0 0.15 0.25 0.7 1.0 0.55 0.3
10.5 -1.6 -1.0 -0.3 -0.3 -1.5 -2.0 -0.7 -0.2
11 1.0 1.3 0.25 0.1 1.1 0.8 0.7 0.55
11.5 -0.8 -1.5 -0.45 -0.45 -1.1 -1.7 -0.4 -0.3
12 1.4 0.7 0.3 0.3 0.9 1.4 1.0 0.2
12.5 -1.2 -1.2 -0.6 -0.25 -1.7 -1.5 -0.5 -0.4
13 0.6 1.1 0.05 0.15 0.5 0.9 0.4 0.75
13.5 -0.3 -0.7 -0.35 -0.4 -0.3 -0.6 -0.2 -0.15
14 1.7 1.2 0.4 0.2 1.2 1.6 0.85 0.35
14.5 -1.0 -1.4 -0.5 -0.55 -1.3 -1.8 -0.65 -0.45
15 0.8 0.8 0.2 0.05 0.8 1.1 0.6 0.3
15.5 -1.4 -1.8 -0.3 -0.3 -1.2 -2.2 -0.35 -0.1
16 1.1 1.4 0.3 0.3 1.0 1.3 0.95 0.6
16.5 -0.9 -1.0 -0.55 -0.4 -1.5 -1.6 -0.55 -0.3
17 1.3 1.0 0.15 0.15 0.7 1.4 0.7 0.45
17.5 -1.5 -1.3 -0.4 -0.5 -1.3 -1.9 -0.4 -0.35
18 0.7 1.3 0.35 0.2 1.4 1.0 0.85 0.25
18.5 -0.3 -0.6 -0.25 -0.3 -0.2 -0.5 -0.3 -0.15
19 1.6 0.9 0.2 0.05 0.9 1.5 0.6 0.55
19.5 -1.1 -1.5 -0.65 -0.45 -1.6 -1.7 -0.7 -0.4
20 0.9 1.2 0.1 0.3 0.8 1.2 0.8 0.35
20.5 -1.3 -1.1 -0.4 -0.35 -1.1 -2.0 -0.45 -0.2
21 1.2 1.5 0.3 0.15 1.3 1.8 1.1 0.6
21.5 -0.9 -1.6 -0.5 -0.5 -1.4 -1.6 -0.5 -0.35
22 0.6 0.8 0.2 0.25 0.7 1.2 0.7 0.3
22.5 -1.6 -1.3 -0.7 -0.3 -1.5 -2.1 -0.8 -0.45
23 1.4 1.1 0.15 0.1 1.1 1.0 0.9 0.85
23.5 -0.4 -0.6 -0.3 -0.4 -0.3 -0.7 -0.2 -0.1
24 0.9 1.4 0.35 0.3 1.0 1.6 0.75 0.4
24.5 -1.2 -1.9 -0.5 -0.55 -1.6 -1.8 -0.6 -0.35
25 1.3 0.9 0.2 0.15 0.8 2.3 0.95 0.5
25.5 -1.0 -1.2 -0.4 -0.3 -1.2 -2.0 -0.45 -0.25
26 0.8 1.3 0.1 0.25 1.2 1.3 0.6 0.7
26.5 -1.5 -1.0 -0.6 -0.5 -1.4 -1.9 -0.75 -0.3
27 1.7 1.5 0.45 0.2 1.3 1.9 1.2 0.45
27.5 -1.1 -1.4 -0.95 -0.45 -1.5 -1.7 -0.85 -0.4
28 0.7 1.0 0.15 0.1 0.7 1.5 0.5 0.6
28.5 -0.4 -0.7 -0.4 -0.35 -0.2 -0.8 -0.3 -0.2
29 1.4 1.4 0.3 0.3 1.1 1.7 0.95 0.4
29.5 -1.3 -1.7 -0.65 -0.6 -1.7 -1.9 -0.7 -0.45
30 0.9 0.9 0.15 0.05 1.4 1.2 0.7 0.3
30.5 -1.6 -1.3 -0.4 -0.35 -1.3 -2.1 -0.4 -0.15
31 1.1 1.3 0.3 0.25 0.9 1.1 0.85 0.55
31.5 -0.9 -1.8 -0.5 -0.45 -1.5 -1.6 -0.55 -0.35
32 1.5 1.0 0.2 0.15 1.2 2.2 0.7 0.45
32.5 -1.2 -1.2 -0.45 -0.5 -1.2 -1.9 -0.5 -0.3
33 0.8 1.4 0.35 0.2 0.9 1.3 1.0 0.65
33.5 -0.5 -0.6 -0.6 -0.55 -0.3 -0.6 -0.6 -0.4
34 1.3 1.1 0.15 0.25 1.1 1.5 0.7 0.4
34.5 -1.4 -1.6 -0.4 -0.35 -1.5 -2.2 -0.45 -0.3
35 0.7 0.9 0.3 0.1 0.8 1.4 0.85 0.5
35.5 -1.0 -1.3 -0.55 -0.5 -1.3 -1.7 -0.6 -0.4
36 1.6 1.3 0.1 0.3 1.3 2.3 0.6 0.35
36.5 -1.3 -2.0 -0.45 -0.4 -1.4 -2.9 -0.4 -0.25
37 1.0 1.0 0.35 0.2 0.9 1.3 1.0 0.6
37.5 -1.5 -1.2 -0.6 -0.55 -1.6 -1.8 -0.7 -0.45
38 0.8 1.4 0.2 0.1 1.0 1.2 0.8 0.45
38.5 -0.3 -0.6 -0.3 -0.35 -0.3 -0.7 -0.25 -0.2
39 1.4 1.1 0.3 0.25 1.2 1.5 0.9 0.4
39.5 -1.2 -1.6 -0.65 -0.5 -1.5 -1.9 -0.6 -0.4
40 0.9 0.9 0.15 0.3 0.8 1.1 0.7 0.35
40.5 -1.6 -1.3 -0.45 -0.4 -1.2 -1.6 -0.45 -0.2
41 1.2 1.4 0.35 0.15 1.1 1.4 1.0 0.6
41.5 -0.9 -1.7 -0.55 -0.5 -1.6 -2.0 -0.6 -0.35
42 1.5 1.0 0.2 0.25 1.0 1.3 0.75 0.45
42.5 -1.4 -1.2 -0.4 -0.35 -1.3 -1.8 -0.45 -0.3
43 0.8 1.5 0.3 0.2 1.2 1.6 0.9 0.7
43.5 -0.5 -0.7 -0.6 -0.55 -0.4 -0.6 -0.55 -0.4
44 1.3 1.1 0.15 0.1 0.9 1.4 0.7 0.35
44.5 -1.3 -1.8 -0.4 -0.45 -2.3 -1.9 -0.5 -0.3
45 1.0 0.9 0.35 0.3 1.3 1.2 1.1 0.55
45.5 -1.7 -1.3 -0.5 -0.4 -1.4 -1.7 -0.6 -0.4
46 1.5 1.3 0.2 0.15 1.0 1.5 0.75 0.45
46.5 -1.0 -1.6 -0.45 -0.5 -1.2 -1.6 -0.45 -0.25
47 0.9 1.0 0.3 0.25 1.2 1.3 0.95 0.6
47.5 -1.5 -2.1 -0.6 -0.45 -1.6 -2.0 -0.65 -0.4
48 1.6 1.2 0.15 0.1 1.4 2.4 0.8 0.4
48.5 -0.4 -0.7 -0.4 -0.4 -0.3 -0.7 -0.3 -0.2
49 1.1 1.4 0.3 0.3 1.1 1.3 0.9 0.65
49.5 -1.3 -1.5 -0.55 -0.5 -1.5 -1.9 -0.6 -0.35
50 0.8 0.9 0.2 0.15 1.0 1.2 0.75 0.5
50.5 -1.6 -1.4 -0.45 -0.4 -1.3 -1.8 -0.85 -0.4
51 1.3 1.2 0.35 0.2 1.2 1.0 1.0 0.55
51.5 -1.0 -1.3 -0.95 -0.55 -1.4 -1.6 -0.7 -0.3
52 0.5 0.6 0.1 -0.2 -1.2 0.4 1.0 0.1
}\secIV

\pgfplotstableread{
t rh lh rk lk rhe lhe rke lke
0 0.7 -1.2 0.2 0.3 1.5 -1.5 0.4 0.9
0.5 -1.5 0.6 -0.5 -0.5 -0.6 -2.5 -0.3 -0.3
1 1.2 0.8 0.35 0.2 1.2 1.8 1.0 0.6
1.5 -1.2 -1.3 -0.4 -0.7 -1.6 -1.2 -0.6 -0.2
2 0.4 1.3 0.1 0.05 0.8 0.9 0.5 0.8
2.5 -2.0 -0.8 -0.8 -0.6 -1.4 -2.4 -0.5 -0.4
3 1.0 0.5 0.25 0.3 2.0 2.0 1.1 0.3
3.5 -0.8 -1.8 -0.3 -0.9 -1.0 -1.5 -0.2 -0.1
4 1.5 1.0 0.4 0.1 1.0 1.2 0.6 0.7
4.5 -1.4 -1.0 -0.9 -0.5 -1.8 -2.8 -0.9 -0.35
5 0.6 1.6 0.15 0.4 0.7 2.9 0.8 0.5
5.5 -1.8 -1.4 -0.6 -0.7 -1.3 -1.8 -0.4 -0.2
6 1.0 0.7 0.3 0.2 1.8 1.5 1.1 1.0
6.5 -1.1 -1.9 -0.4 -1.0 -2.0 -2.2 -0.7 -0.4
7 0.5 1.0 0.9 0.0 3.2 1.0 0.5 1.2
7.5 -4.0 -0.9 -1.1 -0.6 -1.5 -2.0 -1.0 -0.3
8 1.1 1.4 0.35 0.35 1.0 2.0 0.9 0.6
8.5 -0.9 -1.3 -0.5 -0.8 -2.3 -1.5 -0.3 -0.2
9 0.8 0.6 0.2 0.1 1.5 1.3 0.7 0.9
9.5 -1.7 -1.6 -0.7 -0.5 -1.2 -2.6 -0.6 -0.45
10 2.2 1.2 0.45 0.3 0.9 2.4 1.2 0.5
10.5 -1.3 -1.0 -0.4 -1.1 -1.7 -1.7 -0.5 -0.3
11 0.6 0.8 0.25 0.15 1.6 1.6 0.6 0.8
11.5 -2.2 -1.8 -0.9 -0.6 -2.1 -2.3 -0.8 -0.2
12 0.9 1.3 0.15 0.4 1.1 1.1 1.0 0.6
12.5 -1.0 -0.8 -0.6 -0.9 -1.4 -2.0 -0.4 -0.5
13 1.3 0.9 0.35 0.2 2.0 2.5 0.8 0.9
13.5 -1.5 -1.5 -0.5 -0.5 -0.9 -1.4 -0.6 -0.3
14 0.4 1.5 0.2 0.05 1.3 1.7 0.5 1.1
14.5 -1.9 -1.0 -1.0 -1.2 -1.9 -2.7 -0.9 -0.4
15 1.2 0.7 0.4 0.3 0.8 1.4 1.3 0.5
15.5 -1.2 -1.7 -0.4 -0.6 -2.7 -1.8 -0.5 -0.2
16 0.8 1.2 0.15 0.2 2.3 2.0 0.7 0.7
16.5 -2.3 -1.2 -0.7 -0.8 -1.1 -2.3 -0.7 -0.4
17 1.0 0.6 0.3 0.4 1.4 1.2 1.1 1.2
17.5 -1.0 -1.9 -0.5 -0.5 -1.8 -2.0 -0.4 -0.3
18 1.5 1.3 0.45 0.1 1.0 2.6 0.9 0.6
18.5 -1.6 -1.0 -0.8 -1.0 -2.2 -1.6 -0.9 -0.45
19 0.6 1.0 0.2 0.3 1.7 1.4 0.6 0.9
19.5 -2.0 -1.6 -0.6 -0.7 -1.5 -2.5 -0.5 -0.2
20 1.0 1.6 0.35 0.2 2.1 1.9 1.0 0.7
20.5 -1.3 -1.1 -0.4 -0.6 -1.2 -1.9 -0.6 -0.35
21 1.2 0.8 0.25 0.4 1.3 2.2 0.8 1.0
21.5 -2.1 -1.8 -1.0 -0.9 -2.0 -2.1 -0.4 -0.3
22 0.6 1.2 0.15 0.1 0.9 1.5 1.2 0.6
22.5 -1.5 -1.2 -0.7 -0.5 -1.7 -2.9 -0.8 -0.5
23 1.1 1.4 0.4 0.35 1.8 2.4 0.7 0.8
23.5 -1.0 -0.9 -0.5 -1.2 -1.3 -1.4 -0.5 -0.2
24 2.2 0.9 0.25 0.2 1.2 1.8 1.4 1.0
24.5 -1.8 -1.9 -1.2 -0.7 -2.2 -2.4 -0.9 -0.4
25 0.7 2.8 0.2 0.3 1.6 2.7 0.9 0.6
25.5 -2.4 -1.0 -0.6 -0.9 -1.4 -1.9 -0.4 -0.3
26 1.2 1.0 0.9 0.4 2.2 1.6 1.6 0.9
26.5 -1.2 -2.0 -0.5 -0.6 -1.9 -2.6 -0.7 -0.5
27 1.0 0.8 0.35 0.1 1.4 2.2 1.2 0.7
27.5 -2.0 -1.3 -1.1 -1.0 -1.6 -1.8 -1.0 -0.3
28 0.6 1.4 0.2 0.3 1.9 2.9 0.8 1.1
28.5 -1.4 -0.8 -0.8 -0.7 -1.2 -2.2 -0.5 -0.2
29 1.4 1.1 0.3 0.2 1.5 1.6 1.1 0.8
29.5 -1.7 -1.8 -0.6 -1.3 -2.1 -2.7 -0.8 -0.4
30 0.8 0.8 0.4 0.35 1.0 1.9 0.7 0.6
30.5 -2.2 -1.1 -0.4 -0.6 -1.8 -1.5 -0.5 -0.3
31 1.1 1.4 0.25 0.1 2.0 2.4 1.3 1.0
31.5 -1.1 -1.6 -1.0 -0.8 -1.3 -2.3 -0.9 -0.45
32 0.6 1.0 0.15 0.4 1.4 1.3 0.6 0.7
32.5 -1.9 -1.0 -0.7 -0.6 -2.3 -2.0 -0.6 -0.3
33 1.5 2.5 0.45 0.2 3.3 2.2 1.0 1.1
33.5 -3.0 -1.4 -0.5 -1.0 -1.5 -1.6 -0.4 -0.2
34 0.9 0.8 0.3 0.3 1.2 1.9 0.9 0.8
34.5 -1.5 -1.9 -1.1 -0.7 -2.0 -2.5 -0.8 -0.4
35 1.2 1.2 0.2 0.1 1.6 1.5 1.2 0.6
35.5 -1.2 -1.2 -0.6 -0.9 -1.3 -2.2 -0.5 -0.3
36 0.7 1.4 0.35 0.35 1.9 2.5 0.7 1.0
36.5 -2.1 -1.0 -0.9 -0.6 -1.7 -1.8 -0.7 -0.45
37 1.3 1.0 0.25 0.2 1.1 1.7 1.1 0.7
37.5 -1.4 -1.8 -1.0 -1.1 -2.2 -2.6 -0.9 -0.3
38 0.8 0.7 0.15 0.3 1.7 2.1 0.6 0.9
38.5 -1.8 -1.4 -0.6 -0.5 -1.4 -1.5 -0.4 -0.2
39 1.4 1.6 0.4 0.1 1.3 1.8 1.3 0.6
39.5 -1.3 -1.0 -0.5 -0.8 -1.9 -3.7 -0.7 -0.5
40 0.6 1.1 0.3 0.4 2.1 2.2 0.8 1.0
40.5 -2.3 -1.7 -1.1 -0.6 -1.2 -1.7 -0.5 -0.3
41 1.0 0.8 0.2 0.2 1.5 1.5 1.0 0.7
41.5 -1.6 -1.3 -0.7 -1.0 -2.0 -2.4 -0.8 -0.4
42 1.3 1.5 0.45 0.3 1.0 2.3 0.7 0.9
42.5 -1.1 -1.0 -0.5 -0.7 -1.6 -1.9 -0.5 -0.25
43 0.9 1.2 0.25 0.1 1.9 1.7 1.2 1.1
43.5 -2.0 -1.9 -0.9 -0.8 -1.3 -2.2 -0.7 -0.4
44 1.2 0.8 0.15 0.35 1.4 2.6 0.9 0.7
44.5 -1.4 -1.2 -0.7 -0.6 -2.2 -1.6 -0.6 -0.3
45 0.7 1.4 0.4 0.2 1.6 1.9 0.6 1.0
45.5 -2.2 -1.6 -0.5 -1.1 -1.5 -2.5 -0.9 -0.45
46 1.1 1.0 0.3 0.3 2.2 1.4 1.3 0.6
46.5 -1.3 -1.0 -1.0 -0.7 -1.9 -2.0 -0.5 -0.2
47 1.4 1.6 0.2 0.1 1.2 2.4 0.8 0.9
47.5 -1.7 -1.8 -0.6 -0.9 -1.4 -2.2 -0.8 -0.4
48 0.8 1.0 0.35 0.35 1.8 2.6 1.0 0.8
48.5 -2.0 -1.1 -0.8 -0.6 -2.0 -1.5 -0.4 -0.3
49 1.0 1.3 0.25 0.2 1.4 1.9 0.7 0.6
49.5 -1.2 -1.7 -1.1 -1.2 -1.6 -2.3 -0.9 -0.5
50 1.2 0.8 0.3 0.3 2.0 2.7 1.2 1.0
50.5 -1.9 -1.4 -0.5 -0.7 -1.3 -1.8 -0.6 -0.3
51 0.9 1.4 0.45 0.1 1.5 2.0 0.8 0.8
51.5 -1.6 -2.0 -0.7 -0.9 -2.1 -2.0 -0.7 -0.4
52 0.3 0.5 0.4 0.2 -0.3 0.5 1.2 0.1
}\secV

\pgfplotsset{
  base/.style={
    scale only axis, width=351.5pt, height=78.5pt, anchor=north west,
    xmin=0, xmax=52.3, xtick={0,10,20,30,40,50},
    axis line style={draw=black!60, line width=0.6pt},
    every tick/.style={draw=black!60, line width=0.6pt},
    tick align=inside, major tick length=3.5pt,
    grid=major, major grid style={draw=black!10, line width=0.5pt},
    /pgf/number format/assume math mode=true,
    tick label style={font=\fz{10.75}, text=black!85},
    xticklabel style={anchor=base, yshift=-13.85pt},
    yticklabel style={xshift=-2pt},
    label style={font=\fz{12}, text=black!85},
    xlabel={Time},
    xlabel style={at={(axis description cs:0.5,0)}, anchor=base, yshift=-28.9pt},
    every axis title/.style={font=\fz{12.75}, text=black, at={(axis description cs:0.5,1)}, anchor=base, yshift=4pt},
    legend style={at={(axis description cs:1,1)}, anchor=north east, xshift=-7pt, yshift=-6pt,
      draw=black!70, line width=0.5pt, fill=white, font=\fz{10}, text=black!85,
      inner xsep=1.5pt, inner ysep=1pt, nodes={inner sep=1.5pt}, cells={anchor=west}},
    legend image code/.code={\draw[##1] (0pt,0pt) -- (24pt,0pt);},
  },
  act/.style={draw=cG, line width=1.8pt, line join=round, no markers},
  dyn/.style={draw=cC, line width=1.3pt, dash pattern=on 5pt off 3pt, line join=round, no markers},
  err/.style={draw=cR, line width=1pt, line join=round, no markers},
}

\newcommand{\tq}[9]{%
  \begin{axis}[base, at={(#1pt,-#2pt)}, ymin=#3, ymax=#4, ytick={#5}, title={#6}, ylabel={Nm},
    extra description/.code={\node[font=\fz{17.5}, text=black, anchor=base, xshift=-61pt, yshift=-10.5pt] at (axis description cs:0,1) {#7};}]
  \addplot[act] table[x=t,y=#9]{\act};
  \addplot[dyn] table[x=t,y=#9]{#8};
  \legend{Actual Torque,Dynamic Torque}
  \end{axis}}
\newcommand{\er}[9]{%
  \begin{axis}[base, at={(#1pt,-#2pt)}, ymin=#3, ymax=#4, ytick={#5}, title={#6}, ylabel={Error (Nm)},
    extra description/.code={\node[font=\fz{17.5}, text=black, anchor=base, xshift=-61pt, yshift=-10.5pt] at (axis description cs:0,1) {#7};}]
  \addplot[err] table[x=t,y=#9]{#8};
  \end{axis}}

\begin{document}
\begin{tikzpicture}
\useasboundingbox (0,0) rectangle (1875pt,-1733pt);
\draw[fr, line width=1.5pt] (17.5pt,-18pt) rectangle (1857pt,-1717.5pt);
\node[font=\fz{37}, anchor=base] at (971pt,-60pt) {Part 3) TD3 Network};
\node[font=\fz{16}, anchor=base] at (488.5pt,-85.5pt) {\spaceskip=0.59em I) Joint Torque Comparison by TD3 Network with SNR ∞ vs Actual Data};
\node[font=\fz{16}, anchor=base] at (1413.5pt,-85.5pt) {II) Joint Torque Comparison by TD3 Network with SNR 50 vs Actual Data};
\node[font=\fz{16}, anchor=base] at (488.5pt,-639.3pt) {III) Joint Torque Comparison by TD3 Network with SNR 20 vs Actual Data};
\node[font=\fz{16}, anchor=base] at (1414pt,-639.3pt) {IV) Joint Torque Comparison by TD3 Network with SNR 10 vs Actual Data};
\node[font=\fz{16}, anchor=base] at (965pt,-1191pt) {V) Joint Torque Comparison by TD3 Network with SNR 5 vs Actual Data};

% Section I
\tq{99}{117}{-1.35}{1}{-1,0,1}{Right Hip Torque}{a)}{\secI}{rh}
\er{99}{245.5}{-1.24}{2}{-1,0,1,2}{Right Hip Torque Error}{b)}{\secI}{rhe}
\tq{99}{373.5}{-1}{0.58}{-1,-0.5,0,0.5}{Right Knee Torque}{c)}{\secI}{rk}
\er{99}{501.5}{-1}{1.05}{-1,0,1}{Right Knee Torque Error}{d)}{\secI}{rke}
\tq{562.5}{117}{-1.25}{1}{-1,0,1}{Left Hip Torque}{e)}{\secI}{lh}
\er{562.5}{245.5}{-2}{2}{-2,0,2}{Left Hip Torque Error}{f)}{\secI}{lhe}
\tq{562.5}{373.5}{-0.6}{0.5}{-0.5,0,0.5}{Left Knee Torque}{g)}{\secI}{lk}
\er{562.5}{501.5}{-0.5}{0.7}{-0.5,0,0.5}{Left Knee Torque Error}{h)}{\secI}{lke}
% Section II
\tq{1025}{114.5}{-1.38}{1}{-1,0,1}{Right Hip Torque}{a)}{\secII}{rh}
\er{1025}{243}{-2}{2}{-2,0,2}{Right Hip Torque Error}{b)}{\secII}{rhe}
\tq{1025}{371}{-1}{0.58}{-1,-0.5,0,0.5}{Right Knee Torque}{c)}{\secII}{rk}
\er{1025}{499.5}{-1.03}{1.04}{-1,0,1}{Right Knee Torque Error}{d)}{\secII}{rke}
\tq{1487.5}{114.5}{-1.24}{1}{-1,0,1}{Left Hip Torque}{e)}{\secII}{lh}
\er{1487.5}{243}{-2}{2}{-2,0,2}{Left Hip Torque Error}{f)}{\secII}{lhe}
\tq{1487.5}{371}{-0.6}{0.5}{-0.5,0,0.5}{Left Knee Torque}{g)}{\secII}{lk}
\er{1487.5}{499.5}{-0.5}{0.69}{-0.5,0,0.5}{Left Knee Torque Error}{h)}{\secII}{lke}
% Section III
\tq{99}{668.5}{-2}{1.2}{-2,-1,0,1}{Right Hip Torque}{a)}{\secIII}{rh}
\er{99}{797}{-2}{2}{-2,0,2}{Right Hip Torque Error}{b)}{\secIII}{rhe}
\tq{99}{925}{-1}{0.58}{-1,-0.5,0,0.5}{Right Knee Torque}{c)}{\secIII}{rk}
\er{99}{1053.5}{-1}{1.11}{-1,0,1}{Right Knee Torque Error}{d)}{\secIII}{rke}
\tq{562.5}{668.5}{-1.33}{1.04}{-1,0,1}{Left Hip Torque}{e)}{\secIII}{lh}
\er{562.5}{797}{-2}{2}{-2,0,2}{Left Hip Torque Error}{f)}{\secIII}{lhe}
\tq{562.5}{925}{-0.66}{0.5}{-0.5,0,0.5}{Left Knee Torque}{g)}{\secIII}{lk}
\er{562.5}{1053.5}{-0.5}{1}{-0.5,0,0.5,1}{Left Knee Torque Error}{h)}{\secIII}{lke}
% Section IV
\tq{1025}{668.5}{-2}{2.23}{-2,0,2}{Right Hip Torque}{a)}{\secIV}{rh}
\er{1025}{797}{-2.35}{2}{-2,0,2}{Right Hip Torque Error}{b)}{\secIV}{rhe}
\tq{1025}{925}{-1}{0.58}{-1,-0.5,0,0.5}{Right Knee Torque}{c)}{\secIV}{rk}
\er{1025}{1053.5}{-1.02}{1.24}{-1,0,1}{Right Knee Torque Error}{d)}{\secIV}{rke}
\tq{1487.5}{668.5}{-2.23}{2}{-2,0,2}{Left Hip Torque}{e)}{\secIV}{lh}
\er{1487.5}{797}{-2.97}{2.46}{-2,0,2}{Left Hip Torque Error}{f)}{\secIV}{lhe}
\tq{1487.5}{925}{-1}{0.5}{-1,-0.5,0,0.5}{Left Knee Torque}{g)}{\secIV}{lk}
\er{1487.5}{1053.5}{-0.5}{1}{-0.5,0,0.5,1}{Left Knee Torque Error}{h)}{\secIV}{lke}
% Section V
\tq{575}{1220.5}{-4.2}{2.27}{-4,-2,0,2}{Right Hip Torque}{a)}{\secV}{rh}
\er{575}{1348.5}{-2.75}{3.45}{-2,0,2}{Right Hip Torque Error}{b)}{\secV}{rhe}
\tq{575}{1476.5}{-1.26}{1}{-1,0,1}{Right Knee Torque}{c)}{\secV}{rk}
\er{575}{1604.5}{-1.03}{2}{-1,0,1,2}{Right Knee Torque Error}{d)}{\secV}{rke}
\tq{1038}{1220.5}{-2.58}{2.85}{-2,0,2}{Left Hip Torque}{e)}{\secV}{lh}
\er{1038}{1348.5}{-4}{3}{-4,-2,0,2}{Left Hip Torque Error}{f)}{\secV}{lhe}
\tq{1038}{1476.5}{-1.38}{1}{-1,0,1}{Left Knee Torque}{g)}{\secV}{lk}
\er{1038}{1604.5}{-1}{1.22}{-1,0,1}{Left Knee Torque Error}{h)}{\secV}{lke}
\end{tikzpicture}
\end{document}
